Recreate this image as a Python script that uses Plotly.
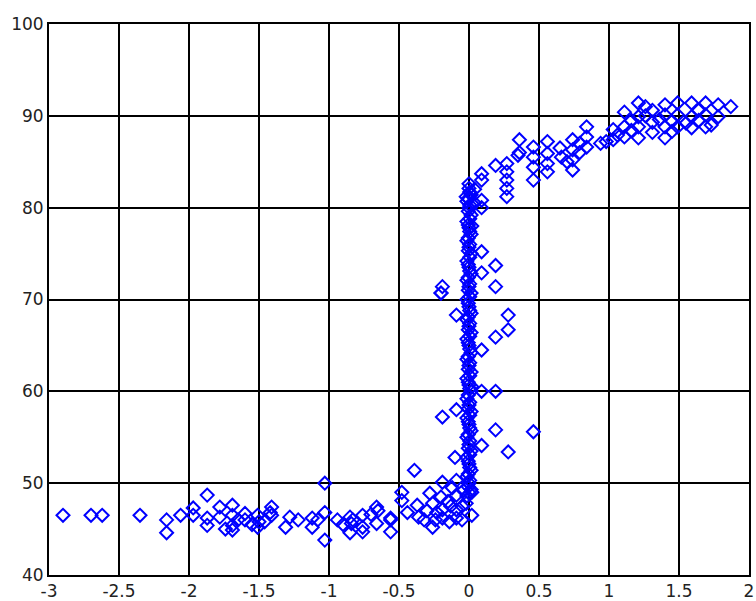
import plotly.graph_objects as go

# Left plateau (~46)
x_low = [-2.9, -2.7, -2.62, -2.35, -2.16, -2.16, -2.06, -1.97, -1.97, -1.87, -1.87, -1.87,
         -1.78, -1.78, -1.69, -1.69, -1.69, -1.69, -1.6, -1.6, -1.51, -1.51, -1.41, -1.41,
         -1.31, -1.22, -1.12, -1.12, -1.03, -1.03, -1.03, -0.94, -0.85, -0.84, -0.85, -0.76,
         -0.76, -0.76, -0.66, -0.66, -0.56, -0.56, -0.56, -0.83, -0.65, -1.46, -1.55, -1.74, -1.28,
         -1.65, -1.5, -1.42, -1.08, -0.9, -0.7]
y_low = [46.5, 46.5, 46.5, 46.5, 46.0, 44.6, 46.5, 47.3, 46.5, 48.7, 46.2, 45.4,
         47.4, 46.3, 47.6, 46.5, 45.4, 44.9, 46.7, 46.0, 46.5, 45.2, 47.4, 46.5,
         45.2, 46.0, 46.2, 45.2, 50.0, 46.8, 43.8, 46.0, 46.3, 45.6, 44.6, 46.5,
         44.7, 45.2, 47.4, 45.6, 46.2, 44.7, 46.0, 46.0, 47.0, 45.8, 45.5, 45.0, 46.3,
         46.0, 45.8, 46.8, 46.0, 45.5, 46.6]

# Transition cluster near x = -0.5 .. 0
x_mid = [-0.48, -0.48, -0.37, -0.28, -0.26, -0.19, -0.2, -0.19, -0.09, -0.09, -0.09, -0.09,
         -0.26, -0.19, -0.36, -0.39, -0.44, -0.32, -0.14, -0.05, -0.05, -0.3, -0.12, -0.23,
         -0.1, -0.19, -0.09, -0.19, -0.2, -0.2, -0.09, -0.15, -0.04, -0.24, -0.13]
y_mid = [49.0, 48.1, 47.6, 48.9, 47.8, 50.1, 48.5, 47.1, 50.3, 48.7, 47.1, 46.2,
         45.2, 46.2, 46.3, 51.4, 46.8, 46.0, 45.8, 46.0, 47.5, 47.0, 49.5, 46.8,
         52.8, 57.2, 58.0, 71.4, 70.7, 70.7, 68.3, 48.0, 49.2, 46.0, 47.5]

# Vertical column at x ~ 0 (dense), part A
x_colA = [-0.015, 0.015, 0.0, -0.015, 0.015, 0.0, -0.015, 0.015, 0.0, -0.015, 0.015, 0.0,
          -0.015, 0.015, 0.0, -0.015, 0.015, 0.0, -0.015, 0.015, 0.0, -0.015, 0.015, 0.0,
          -0.015, 0.015, 0.0, -0.015, 0.015, 0.0, -0.015, 0.015, 0.0, -0.015, 0.015, 0.0,
          -0.015, 0.015, 0.0, -0.015, 0.015, 0.0, -0.015, 0.015, 0.0, -0.015, 0.015, 0.0, 0.0]
y_colA = [48.6, 49.3, 50.0, 50.7, 51.4, 52.1, 52.8, 53.5, 54.2, 55.0, 55.7, 56.4,
          57.1, 57.8, 58.5, 59.2, 60.0, 60.7, 61.4, 62.1, 62.8, 63.5, 64.2, 65.0,
          65.7, 66.4, 67.1, 67.8, 68.5, 69.2, 70.0, 70.7, 71.4, 72.1, 72.8, 73.5,
          74.2, 75.0, 75.7, 76.4, 77.1, 77.8, 78.5, 79.2, 80.0, 80.7, 81.4, 82.1, 82.6]

# Vertical column, part B
x_colB = [0.005, -0.005, 0.005, -0.005, 0.005, -0.005, 0.005, -0.005, 0.005, -0.005, 0.005, -0.005,
          0.005, -0.005, 0.005, -0.005, 0.005, -0.005, 0.005, -0.005, 0.005, -0.005, 0.005, -0.005, 0.005,
          -0.005, 0.005, -0.005, 0.005, -0.005, 0.005, -0.005, 0.005, -0.005, 0.005, -0.005, 0.005, -0.005,
          0.005, -0.005, 0.005, -0.005, 0.005, -0.005, 0.005, -0.005, 0.005]
y_colB = [48.9, 49.6, 50.3, 51.0, 51.7, 52.4, 53.1, 53.8, 54.6, 55.3, 56.0, 56.7,
          57.4, 58.1, 58.8, 59.6, 60.3, 61.0, 61.7, 62.4, 63.1, 63.8, 64.6, 65.3, 66.0,
          66.7, 67.4, 68.1, 68.8, 69.6, 70.3, 71.0, 71.7, 72.4, 73.1, 73.8, 74.6, 75.3,
          76.0, 76.7, 77.4, 78.1, 78.8, 79.6, 80.3, 81.0, 81.7]

# Column extras
x_colC = [0.02, -0.02, 0.02, -0.02, 0.02, 0.02]
y_colC = [46.5, 47.8, 49.0, 81.2, 78.0, 60.5]

# Scattered points right of the column
x_side = [0.09, 0.19, 0.09, 0.19, 0.28, 0.28, 0.19, 0.09, 0.09, 0.19, 0.19, 0.09, 0.28, 0.46,
          0.09, 0.09, 0.19, 0.27, 0.27, 0.27, 0.27, 0.27, 0.09, 0.09, 0.04, 0.04]
y_side = [75.2, 73.7, 72.9, 71.4, 68.3, 66.7, 65.9, 64.5, 60.0, 60.0, 55.8, 54.1, 53.4, 55.6,
          83.7, 83.0, 84.6, 84.8, 83.9, 83.0, 82.1, 81.2, 80.8, 80.0, 82.0, 80.5]

# Upper plateau (~85-91)
x_high = [0.36, 0.36, 0.35, 0.46, 0.46, 0.46, 0.46, 0.56, 0.56, 0.56, 0.56, 0.66, 0.65,
          0.74, 0.74, 0.74, 0.74, 0.84, 0.84, 0.84, 0.94, 1.03, 1.03, 1.11, 1.11, 1.11,
          1.21, 1.21, 1.21, 1.21, 1.31, 1.31, 1.31, 1.4, 1.4, 1.4, 1.4, 1.49, 1.49, 1.49,
          1.59, 1.59, 1.59, 1.69, 1.69, 1.69, 1.78, 1.78, 1.87, 1.16, 1.26, 1.36, 1.45,
          1.55, 1.64, 1.06, 0.98, 0.79, 0.7, 1.73, 1.16, 1.26, 1.45, 1.64, 0.79]
y_high = [87.4, 86.0, 85.7, 86.6, 85.5, 84.4, 83.0, 87.2, 85.9, 84.8, 83.9, 85.5, 86.5,
          87.4, 86.3, 85.2, 84.1, 88.8, 87.7, 86.6, 87.0, 88.5, 87.4, 90.4, 88.8, 87.7,
          91.4, 89.9, 88.8, 87.6, 90.6, 89.3, 88.2, 91.2, 90.1, 88.8, 87.6, 91.4, 90.1, 88.8,
          91.4, 89.9, 88.7, 91.4, 90.1, 88.8, 91.2, 89.9, 91.0, 89.5, 90.0, 89.6, 89.4,
          89.2, 89.5, 87.9, 87.2, 86.0, 85.0, 89.0, 88.4, 91.0, 88.3, 90.6, 87.0]

groups_x = [x_low, x_mid, x_colA, x_colB, x_colC, x_side, x_high]
groups_y = [y_low, y_mid, y_colA, y_colB, y_colC, y_side, y_high]
xs, ys = [], []
for gx, gy in zip(groups_x, groups_y):
    n = min(len(gx), len(gy))
    xs += gx[:n]
    ys += gy[:n]

x_ticks = [-3, -2.5, -2, -1.5, -1, -0.5, 0, 0.5, 1, 1.5, 2]
x_tick_text = ["-3", "-2.5", "-2", "-1.5", "-1", "-0.5", "0", "0.5", "1", "1.5", "2"]
y_ticks = [40, 50, 60, 70, 80, 90, 100]

fig = go.Figure(go.Scatter(
    x=xs, y=ys, mode="markers",
    marker=dict(symbol="diamond-open", size=10, color="#0000FF",
                line=dict(width=2, color="#0000FF")),
    showlegend=False))

axis_common = dict(showgrid=True, gridcolor="black", gridwidth=1.5,
                   showline=True, linecolor="black", linewidth=2, mirror=True,
                   zeroline=False, ticks="", automargin=False,
                   tickfont=dict(family="DejaVu Sans, sans-serif", size=17, color="#222"))

fig.update_xaxes(range=[-3, 2], tickvals=x_ticks, ticktext=x_tick_text, **axis_common)
fig.update_yaxes(range=[40, 100], tickvals=y_ticks, **axis_common)

fig.update_layout(width=756, height=601,
                  margin=dict(l=49, r=7, t=24, b=26),
                  paper_bgcolor="white", plot_bgcolor="white")

fig.write_html("out.html", config={"displayModeBar": False},
               post_script="document.body.style.margin='0';document.body.style.overflow='hidden';")
